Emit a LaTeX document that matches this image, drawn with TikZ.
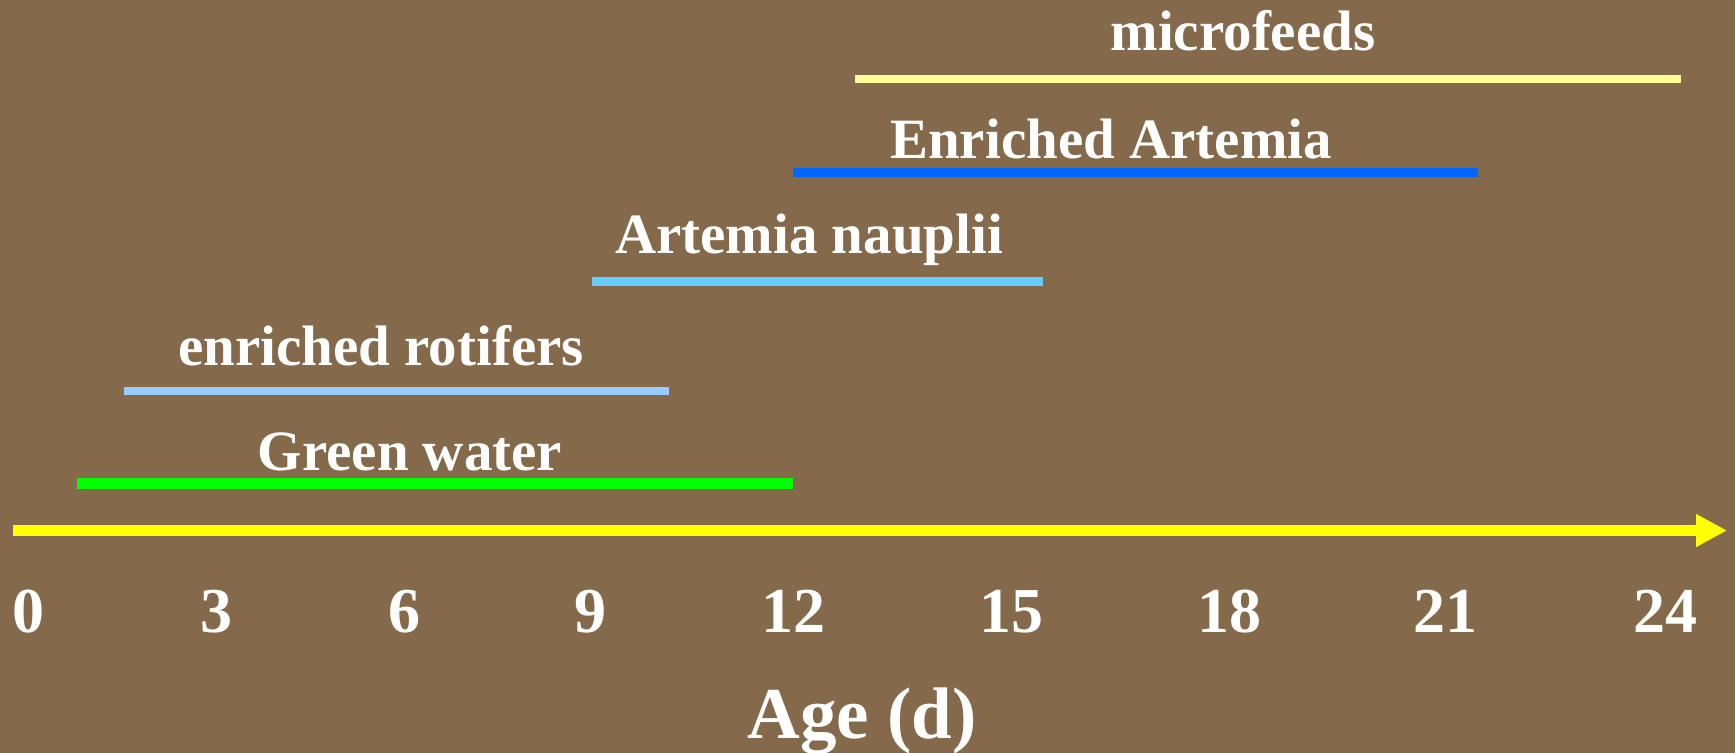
\documentclass[tikz,border=0pt]{standalone}
\usepackage{fontspec}
\setmainfont{Liberation Serif}
\usetikzlibrary{arrows.meta}
\definecolor{bg}{HTML}{846A4A}
\definecolor{axisyellow}{HTML}{FFFF00}
\definecolor{gwater}{HTML}{00FF00}
\definecolor{rotblue}{HTML}{99CCFF}
\definecolor{naublue}{HTML}{66CCFF}
\definecolor{enrblue}{HTML}{0066FF}
\definecolor{microyellow}{HTML}{FFFF99}
\tikzset{
  lbl/.style={anchor=base, inner sep=0pt, text=white, font=\bfseries\fontsize{57bp}{60bp}\selectfont},
  tick/.style={anchor=base, inner sep=0pt, text=white, font=\bfseries\fontsize{64bp}{68bp}\selectfont},
  axtitle/.style={anchor=base, inner sep=0pt, text=white, font=\bfseries\fontsize{73bp}{76bp}\selectfont},
  bar/.style={line width=#1},
  axisline/.style={draw=axisyellow, line width=11bp, -{Triangle[length=31bp,width=31bp]}}
}
\begin{document}
\begin{tikzpicture}[x=1bp,y=-1bp]
\useasboundingbox (0,0) rectangle (1735,753);
\fill[bg] (0,0) rectangle (1735,753);
% feeding bars
\draw[bar=8bp, microyellow] (855,79) -- (1681,79);
\draw[bar=9bp, enrblue] (793,172.5) -- (1478,172.5);
\draw[bar=9bp, naublue] (592,281.5) -- (1043,281.5);
\draw[bar=8bp, rotblue] (124,390.5) -- (669,390.5);
\draw[bar=11bp, gwater] (77,483.5) -- (793,483.5);
% labels
\node[lbl] (micro) at (1243,51) {microfeeds};
\node[lbl] (enr) at (1111,158) {Enriched Artemia};
\node[lbl] (nau) at (809,253) {Artemia nauplii};
\node[lbl] (rot) at (381,365) {enriched rotifers};
\node[lbl] (green) at (410,470) {Green water};
% axis
\coordinate (axstart) at (13,530.5);
\coordinate (axend) at (1727,530.5);
\draw[axisline] (axstart) -- (axend);
% ticks
\node[tick] (t0) at (28.5,632) {0};
\node[tick] (t3) at (216,632) {3};
\node[tick] (t6) at (404,632) {6};
\node[tick] (t9) at (590,632) {9};
\node[tick] (t12) at (793,632) {12};
\node[tick] (t15) at (1011,632) {15};
\node[tick] (t18) at (1229,632) {18};
\node[tick] (t21) at (1445,632) {21};
\node[tick] (t24) at (1665,632) {24};
\node[axtitle] (age) at (862,738) {Age (d)};
\end{tikzpicture}
\end{document}
